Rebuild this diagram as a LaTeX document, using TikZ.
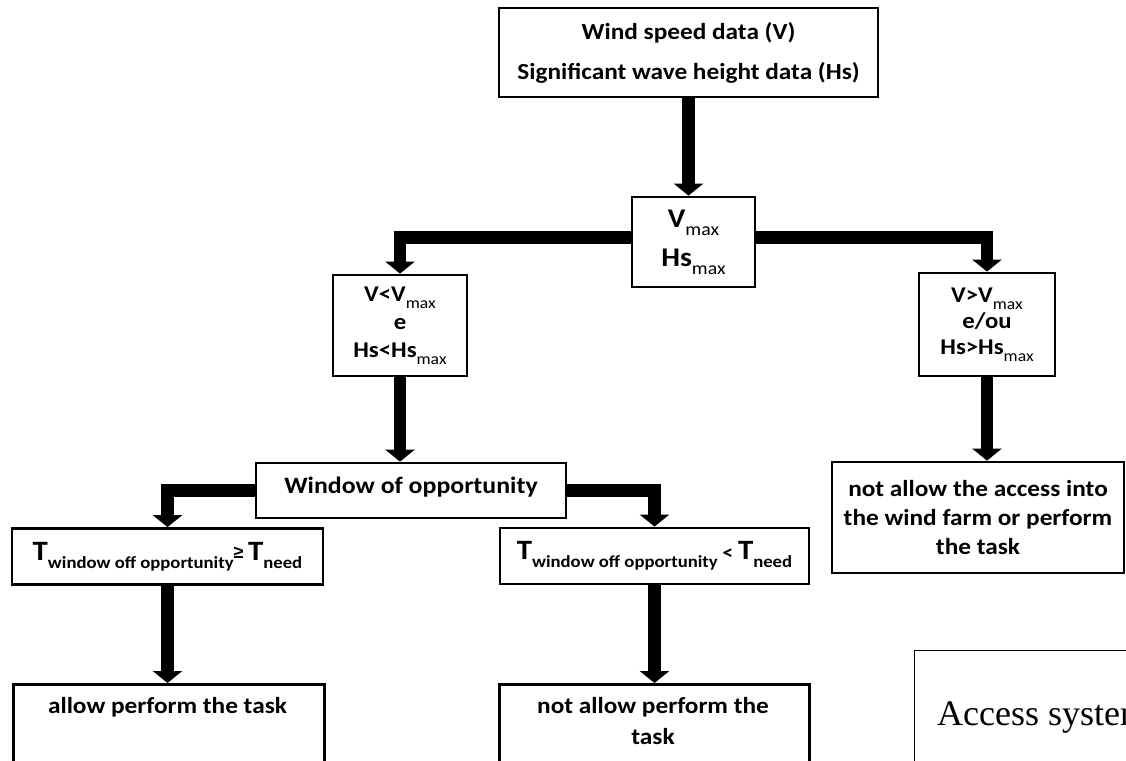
\documentclass[tikz,border=0pt]{standalone}
\usepackage{fontspec}
\setmainfont{Carlito}[FakeStretch=1.1]
\newfontfamily\seriffont{Liberation Serif}
\newfontfamily\symfont{Liberation Sans}
\usetikzlibrary{arrows.meta}
\newcommand{\fs}[2]{\fontsize{#1}{#2}\selectfont}
\newcommand{\lo}[2]{\raisebox{-0.3em}{\fontsize{#1}{#1}\selectfont #2}}
\newcommand{\mx}[1]{\raisebox{-0.3em}{\fontsize{#1}{#1}\selectfont\mdseries max}}
\begin{document}
\begin{tikzpicture}[x=1pt,y=-1pt,
  box/.style={draw, line width=2.8pt, rectangle, inner sep=0pt, align=center},
  thinbox/.style={draw, line width=1pt, rectangle, inner sep=0pt},
  arr/.style={line width=12.5pt, -{Triangle[width=29pt,length=12pt]}},
  txt/.style={inner sep=0pt, align=center}]
\useasboundingbox (0,0) rectangle (1126,760);
\clip (0,0) rectangle (1126,760);
\fill[white] (0,0) rectangle (1126,760);

% boxes
\node[box, minimum width=379pt, minimum height=89pt, font=\bfseries\fs{23}{40}] (top) at (688.5,52.5)
  {Wind speed data (V)\\Significant wave height data (Hs)};
\node[box, minimum width=123pt, minimum height=90pt, font=\bfseries\fs{27}{39}] (vmax) at (693.5,242)
  {V\mx{18}\\Hs\mx{18}};
\node[box, minimum width=134pt, minimum height=101pt, font=\bfseries\fs{22.5}{28}] (lbox) at (400,325.5)
  {V<V\mx{16}\\e\\Hs<Hs\mx{16}};
\node[box, minimum width=136pt, minimum height=103pt, font=\bfseries\fs{22.5}{26}] (rbox) at (987,324.5)
  {V>V\mx{16}\\e/ou\\Hs>Hs\mx{16}};
\node[box, minimum width=292pt, minimum height=111pt, font=\bfseries\fs{23}{29}] (nbox) at (978,517.5)
  {not allow the access into\\the wind farm or perform\\the task};
\node[box, minimum width=310pt, minimum height=55pt] (win) at (411,490.5) {};
\node[txt, font=\bfseries\fs{23.5}{28}] (wintxt) at (411,487) {Window of opportunity};
\node[box, minimum width=311pt, minimum height=56pt, font=\bfseries\fs{28}{30}] (tl) at (167.5,556.5)
  {T\lo{17}{window off opportunity}\raisebox{0.05em}{\symfont\fs{18}{18}≥}\,T\lo{17}{need}};
\node[box, minimum width=309pt, minimum height=56pt, font=\bfseries\fs{28}{30}] (tr) at (654.5,556)
  {T\lo{17}{window off opportunity}\,{\fs{20}{20}<}\,T\lo{17}{need}};
\node[box, minimum width=311pt, minimum height=120pt, anchor=north west] (bl) at (12,683) {};
\node[txt, font=\bfseries\fs{23}{31}] (bltxt) at (167.5,707) {allow perform the task};
\node[box, minimum width=310pt, minimum height=120pt, anchor=north west] (bm) at (498,683) {};
\node[txt, font=\bfseries\fs{23}{31}] (bmtxt) at (653,721) {not allow perform the\\task};
\node[thinbox, minimum width=300pt, minimum height=200pt, anchor=north west] (acc) at (914,650) {};
\node[txt, font=\seriffont\fs{36}{40}, anchor=base west] (acctxt) at (937,725) {Access system};

% connectors
\draw[arr] (top.south) -- (top.south |- vmax.north);
\draw[arr] ([yshift=4.5pt]vmax.west) -| (lbox.north);
\draw[arr] ([yshift=4.5pt]vmax.east) -| (rbox.north);
\draw[arr] (lbox.south) -- (lbox.south |- win.north);
\draw[arr] (rbox.south) -- (rbox.south |- nbox.north);
\draw[arr] (win.west) -| (tl.north);
\draw[arr] (win.east) -| (tr.north);
\draw[arr] (tl.south) -- (tl.south |- bl.north);
\draw[arr] (tr.south) -- (tr.south |- bm.north);
\end{tikzpicture}
\end{document}
